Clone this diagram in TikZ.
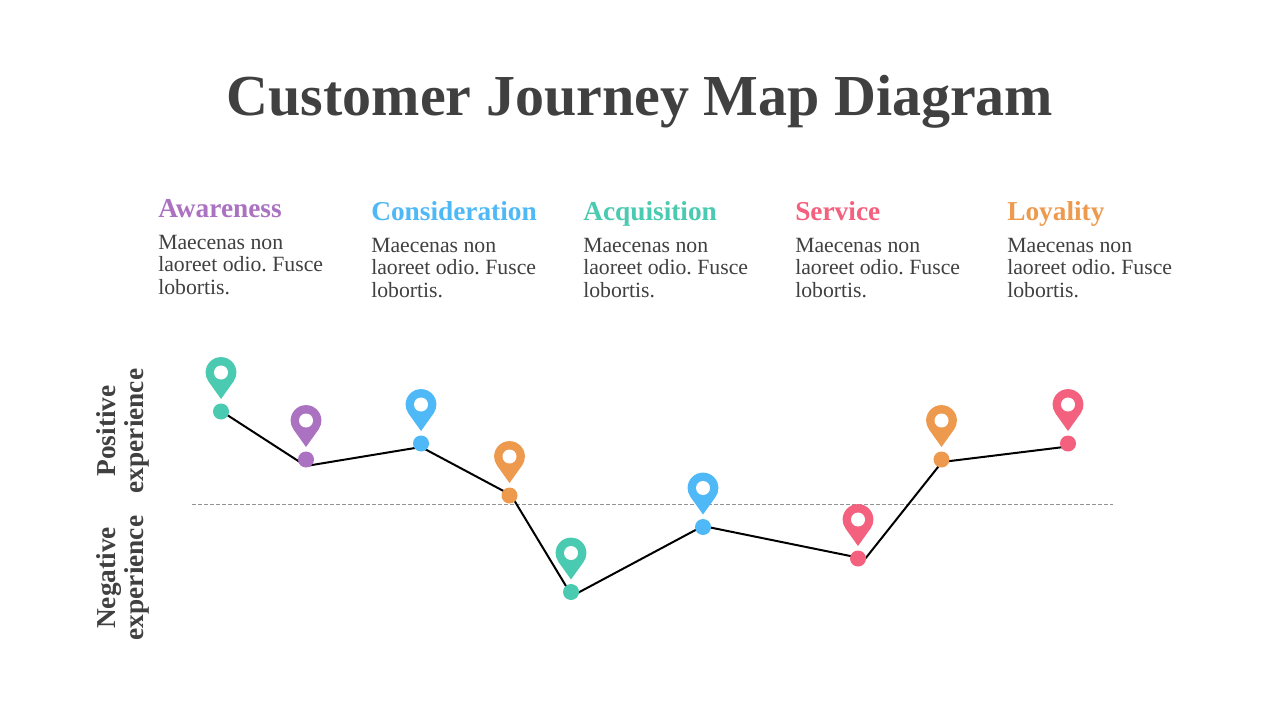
\documentclass[tikz,border=0pt]{standalone}
\usepackage{fontspec}
\setmainfont{Liberation Serif}
\definecolor{ink}{HTML}{404040}
\definecolor{cteal}{HTML}{4ACAB0}
\definecolor{cpurple}{HTML}{AB72C1}
\definecolor{cblue}{HTML}{4FB8F6}
\definecolor{corange}{HTML}{ED9A4E}
\definecolor{cred}{HTML}{F4617F}
\frenchspacing
\tikzset{
  x=0.75pt,y=-0.75pt,
  dot/.style={circle,fill=#1,draw=none,minimum size=12pt,inner sep=0pt},
  head/.style={anchor=base west,text=#1,font=\fontsize{20.5pt}{21pt}\selectfont\bfseries,inner sep=0pt},
  body/.style={anchor=base west,text=ink,align=left,font=\fontsize{16.3pt}{16.9pt}\selectfont\frenchspacing,inner sep=0pt},
  side/.style={rotate=90,text=ink,align=center,font=\fontsize{20.5pt}{21pt}\selectfont\bfseries,inner sep=0pt},
  route/.style={draw=black,line width=1.5pt,line join=round},
  mid/.style={draw=gray!85,line width=0.6pt,dash pattern=on 3pt off 1.5pt},
  pin/.pic={
    \fill[pic actions] (0,0) -- (-12.5,-17.5) .. controls (-14.5,-20.5) and (-15.4,-23.3) .. (-15.4,-26.5)
      .. controls (-15.4,-35) and (-8.5,-41.9) .. (0,-41.9)
      .. controls (8.5,-41.9) and (15.4,-35) .. (15.4,-26.5)
      .. controls (15.4,-23.3) and (14.5,-20.5) .. (12.5,-17.5) -- cycle;
    \fill[white] (0,-26.5) circle[radius=7];
  }
}
\begin{document}
\begin{tikzpicture}
\useasboundingbox (0,0) rectangle (1280,720);
\fill[white] (0,0) rectangle (1280,720);
\node[anchor=base,text=ink,inner sep=0pt,font=\fontsize{43.5pt}{46pt}\selectfont\bfseries] (title) at (640,116) {Customer Journey Map Diagram};

\node[head=cpurple] (h1) at (158,218) {Awareness};
\node[head=cblue] (h2) at (371,221) {Consideration};
\node[head=cteal] (h3) at (583,221) {Acquisition};
\node[head=cred] (h4) at (795,221) {Service};
\node[head=corange] (h5) at (1007,221) {Loyality};
\foreach \n/\px/\py in {b1/158/249.3,b2/371/252.3,b3/583/252.3,b4/795/252.3,b5/1007/252.3}{
  \node[body] (\n) at (\px,\py) {Maecenas non};
  \node[body] (\n b) at (\px,\py+22.4) {laoreet odio. Fusce};
  \node[body] (\n c) at (\px,\py+44.8) {lobortis.};
}

\node[side] (pos) at (123,431) {Positive\\experience};
\node[side] (neg) at (123,578) {Negative\\experience};

\coordinate (ml) at (192,504);
\coordinate (mr) at (1113,504);
\draw[mid] (ml) -- (mr);

\coordinate (v1) at (221,411);
\coordinate (v2) at (306,466);
\coordinate (v3) at (421,447);
\coordinate (v4) at (511,495);
\coordinate (v5) at (572,596);
\coordinate (v6) at (703,526);
\coordinate (v7) at (865,559);
\coordinate (v8) at (942,462);
\coordinate (v9) at (1068,446.5);
\draw[route] (v1) -- (v2) -- (v3) -- (v4) -- (v5) -- (v6) -- (v7) -- (v8) -- (v9);

\foreach \n/\px/\py/\c in {d1/221/411.5/cteal,d2/306/459.5/cpurple,d3/421/443.5/cblue,d4/509.5/495.5/corange,d5/571/592/cteal,d6/703/527/cblue,d7/858/558.5/cred,d8/941.5/459.5/corange,d9/1068/443.5/cred}{
  \node[dot=\c] (\n) at (\px,\py) {};
  \pic[fill=\c] at (\px,\py-12.5) {pin};
}
\end{tikzpicture}
\end{document}
